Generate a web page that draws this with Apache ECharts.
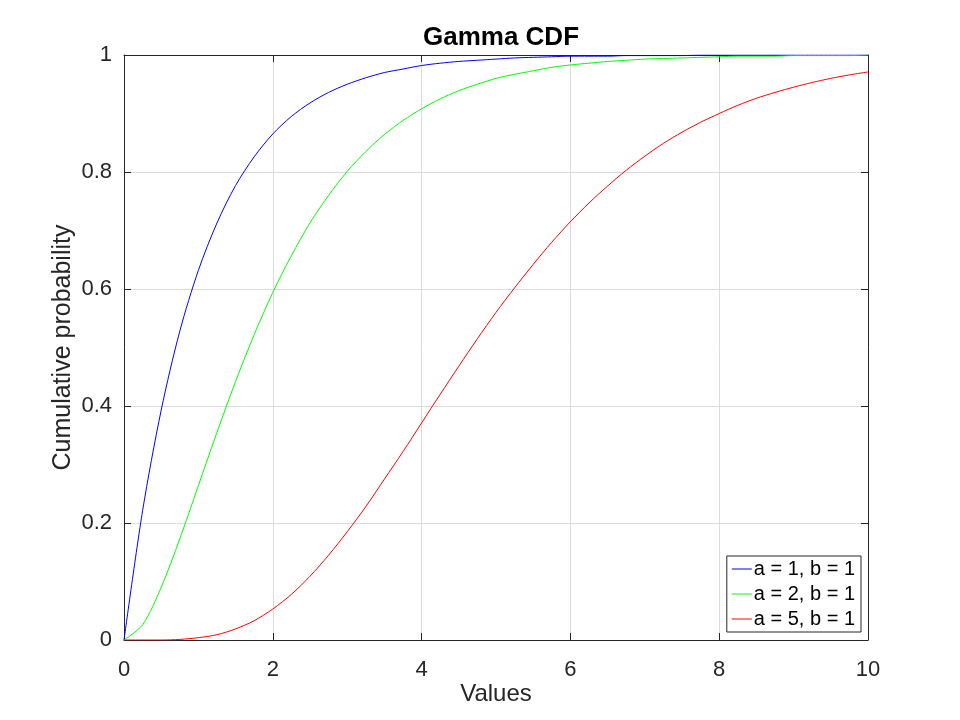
<!DOCTYPE html>
<html>
<head>
<meta charset="utf-8">
<title>Gamma CDF</title>
<script src="https://cdn.jsdelivr.net/npm/echarts@6/dist/echarts.min.js"></script>
<style>
    html, body { margin: 0; padding: 0; background: #fff; }
    #chart { width: 960px; height: 720px; }
</style>
</head>
<body>
<div id="chart"></div>
<script>
    var xValues = [0, 0.25, 0.5, 0.75, 1, 1.25, 1.5, 1.75, 2, 2.25, 2.5, 2.75, 3, 3.25, 3.5, 3.75,
        4, 4.25, 4.5, 4.75, 5, 5.25, 5.5, 5.75, 6, 6.25, 6.5, 6.75, 7, 7.25, 7.5, 7.75,
        8, 8.25, 8.5, 8.75, 9, 9.25, 9.5, 9.75, 10];
    var seriesA1 = [0, 0.221, 0.393, 0.528, 0.632, 0.713, 0.777, 0.826, 0.865, 0.895, 0.918, 0.936, 0.950, 0.961, 0.970, 0.976,
        0.982, 0.986, 0.989, 0.991, 0.993, 0.995, 0.996, 0.997, 0.998, 0.998, 0.998, 0.999, 0.999, 0.999, 0.999, 1.000,
        1.000, 1.000, 1.000, 1.000, 1.000, 1.000, 1.000, 1.000, 1.000];
    var seriesA2 = [0, 0.026, 0.090, 0.173, 0.264, 0.355, 0.442, 0.522, 0.594, 0.657, 0.713, 0.760, 0.801, 0.835, 0.864, 0.888,
        0.908, 0.925, 0.939, 0.950, 0.960, 0.967, 0.973, 0.979, 0.983, 0.986, 0.989, 0.991, 0.993, 0.994, 0.995, 0.996,
        0.997, 0.998, 0.998, 0.998, 0.999, 0.999, 0.999, 0.999, 1.000];
    var seriesA5 = [0, 0, 0, 0.001, 0.004, 0.009, 0.019, 0.033, 0.053, 0.078, 0.109, 0.145, 0.185, 0.228, 0.275, 0.322,
        0.371, 0.420, 0.468, 0.515, 0.560, 0.602, 0.642, 0.680, 0.715, 0.747, 0.776, 0.803, 0.827, 0.849, 0.868, 0.885,
        0.900, 0.914, 0.926, 0.936, 0.945, 0.953, 0.960, 0.966, 0.971];
    var seriesNames = ['a = 1, b = 1', 'a = 2, b = 1', 'a = 5, b = 1'];
    var seriesColors = ['#0000ff', '#00ff00', '#ff0000'];

    function pairs(ys) {
        var out = [];
        for (var i = 0; i < xValues.length; i++) {
            out.push([xValues[i], ys[i]]);
        }
        return out;
    }

    var axisColor = '#262626';
    var font = 'Liberation Sans, Arial, sans-serif';

    function boxAxis(pos, show) {
        return {
            type: 'value',
            position: pos,
            min: 0,
            axisLine: { show: true, onZero: false, lineStyle: { color: axisColor, width: 1 } },
            axisTick: { show: true, inside: true, length: 7, lineStyle: { color: axisColor } },
            axisLabel: { show: show, color: axisColor, fontSize: 22, fontFamily: font },
            splitLine: { show: false }
        };
    }

    var xBottom = boxAxis('bottom', true);
    xBottom.max = 10;
    xBottom.interval = 2;
    xBottom.splitLine = { show: true, lineStyle: { color: '#dcdcdc', width: 1 } };
    xBottom.axisLabel.margin = 19;
    xBottom.name = 'Values';
    xBottom.nameLocation = 'middle';
    xBottom.nameGap = 42;
    xBottom.nameMoveOverlap = false;
    xBottom.nameTextStyle = { color: axisColor, fontSize: 24, fontFamily: font };
    var xTop = boxAxis('top', false);
    xTop.max = 10;
    xTop.interval = 2;

    var yLeft = boxAxis('left', true);
    yLeft.max = 1;
    yLeft.interval = 0.2;
    yLeft.splitLine = { show: true, lineStyle: { color: '#dcdcdc', width: 1 } };
    yLeft.axisLabel.margin = 12;
    yLeft.name = 'Cumulative probability';
    yLeft.nameLocation = 'middle';
    yLeft.nameGap = 48;
    yLeft.nameMoveOverlap = false;
    yLeft.nameTextStyle = { color: axisColor, fontSize: 25, fontFamily: font };
    var yRight = boxAxis('right', false);
    yRight.max = 1;
    yRight.interval = 0.2;

    var series = [seriesA1, seriesA2, seriesA5].map(function (ys, i) {
        return {
            name: seriesNames[i],
            type: 'line',
            data: pairs(ys),
            xAxisIndex: 0,
            yAxisIndex: 0,
            showSymbol: false,
            smooth: 0.3,
            lineStyle: { color: seriesColors[i], width: 1 },
            itemStyle: { color: seriesColors[i] },
            animation: false
        };
    });

    var chart = echarts.init(document.getElementById('chart'));
    chart.setOption({
        backgroundColor: '#fff',
        animation: false,
        title: {
            text: 'Gamma CDF',
            left: 496,
            textAlign: 'center',
            top: 20,
            textStyle: { color: '#000', fontSize: 26, fontWeight: 'bold', fontFamily: font }
        },
        grid: { left: 124, right: 92, top: 55, bottom: 80 },
        xAxis: [xBottom, xTop],
        yAxis: [yLeft, yRight],
        legend: {
            orient: 'vertical',
            right: 99,
            bottom: 88,
            padding: [3, 6, 3, 5],
            itemGap: 5,
            itemWidth: 20,
            itemHeight: 20,
            backgroundColor: '#fff',
            borderColor: axisColor,
            borderWidth: 1,
            borderRadius: 0,
            icon: 'path://M0,10 L20,10 L20,11 L0,11 Z',
            textStyle: { color: '#000', fontSize: 20, fontFamily: font, padding: [0, 0, 0, -3] },
            data: seriesNames.map(function (n, i) {
                return { name: n, itemStyle: { color: seriesColors[i] } };
            })
        },
        series: series
    });
</script>
</body>
</html>
